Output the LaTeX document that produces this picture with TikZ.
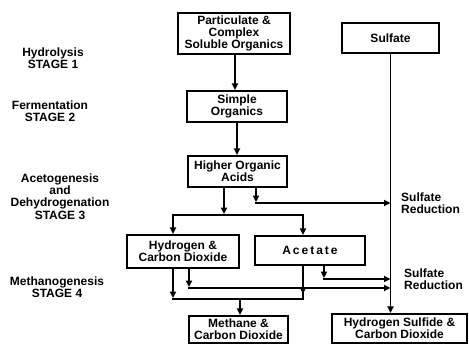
\documentclass[tikz,border=0pt]{standalone}
\usepackage{fontspec}
\setmainfont{Liberation Sans}
\usetikzlibrary{arrows.meta,calc}
\begin{document}
\begin{tikzpicture}[x=1pt,y=-1pt,
  txt/.style={font=\fontsize{12}{12.3}\selectfont\bfseries, align=center, inner sep=0pt},
  box/.style={txt, draw, line width=2pt, inner sep=0pt},
  conn/.style={line width=1.9pt},
  arr/.style={conn, -{Triangle[length=6.5pt,width=6pt]}}]
\useasboundingbox (0,0) rectangle (469,344);
% stage labels
\node[txt] (s1) at (53,58) {Hydrolysis\\STAGE 1};
\node[txt] (s2) at (50,111) {Fermentation\\STAGE 2};
\node[txt] (s3) at (60,196.5) {Acetogenesis\\and\\Dehydrogenation\\STAGE 3};
\node[txt] (s4) at (57,287.5) {Methanogenesis\\STAGE 4};
% boxes
\node[box, minimum width=112pt, minimum height=41pt] (part) at (234,33.5) {Particulate \&\\Complex\\Soluble Organics};
\node[box, minimum width=97pt, minimum height=30pt] (sulf) at (390.5,38) {Sulfate};
\node[box, minimum width=100pt, minimum height=31pt] (simple) at (237,106.5) {Simple\\Organics};
\node[box, minimum width=99pt, minimum height=31pt] (higher) at (237.5,171.5) {Higher Organic\\Acids};
\node[box, minimum width=112pt, minimum height=33pt] (h2) at (183,251.5) {Hydrogen \&\\Carbon Dioxide};
\node[box, minimum width=110pt, minimum height=29pt] (acet) at (310,250.5) {A\,c\,e\,t\,a\,t\,e};
\node[box, minimum width=99pt, minimum height=27pt] (meth) at (238.5,329.5) {Methane \&\\Carbon Dioxide};
\node[box, minimum width=135pt, minimum height=29pt] (hs) at (399.5,328.5) {Hydrogen Sulfide \&\\Carbon Dioxide};
% sulfate reduction labels
\node[txt, anchor=west, align=left] (sr1) at (401,203) {Sulfate\\Reduction};
\node[txt, anchor=west, align=left] (sr2) at (404,279) {Sulfate\\Reduction};
% junction coordinates
\coordinate (j1) at (224,215);
\coordinate (jl) at (173,215);
\coordinate (jr) at (303,215);
\coordinate (j2) at (256,203);
\coordinate (j3) at (189,288);
\coordinate (j4) at (324,279);
\coordinate (bl) at (173,299);
\coordinate (br) at (303,299);
\coordinate (bm) at (240,299);
% connectors
\draw[arr] (part.south -| 235,0) -- (simple.north -| 235,0);
\draw[arr] (simple.south) -- (simple.south |- higher.north);
\draw[arr] (higher.south -| j1) -- ([yshift=0.9pt]j1);
\draw[conn] ([xshift=-0.9pt]jl) -- ([xshift=0.9pt]jr);
\draw[arr] ([yshift=-0.9pt]jl) -- (h2.north -| jl);
\draw[arr] ([yshift=-0.9pt]jr) -- (acet.north -| jr);
\draw[arr] (higher.south -| j2) -- ([yshift=0.9pt]j2);
\draw[arr] ([xshift=-0.9pt]j2) -- (j2 -| sulf.south);
\draw[arr] (sulf.south) -- (sulf.south |- hs.north);
\draw[arr] (h2.south -| bl) -- ([yshift=0.9pt]bl);
\draw[arr] (h2.south -| j3) -- ([yshift=0.9pt]j3);
\draw[arr] ([xshift=-0.9pt]j3) -- (j3 -| sulf.south);
\draw[arr] (acet.south -| j4) -- ([yshift=0.9pt]j4);
\draw[arr] ([xshift=-0.9pt]j4) -- (j4 -| sulf.south);
\draw[arr] (acet.south -| br) -- ($(br)+(0,-5)$);
\draw[conn] ($(br)+(0,-8)$) -- (br) -- ([xshift=-0.9pt]bl);
\draw[arr] (bm) -- (meth.north -| bm);
\end{tikzpicture}
\end{document}
